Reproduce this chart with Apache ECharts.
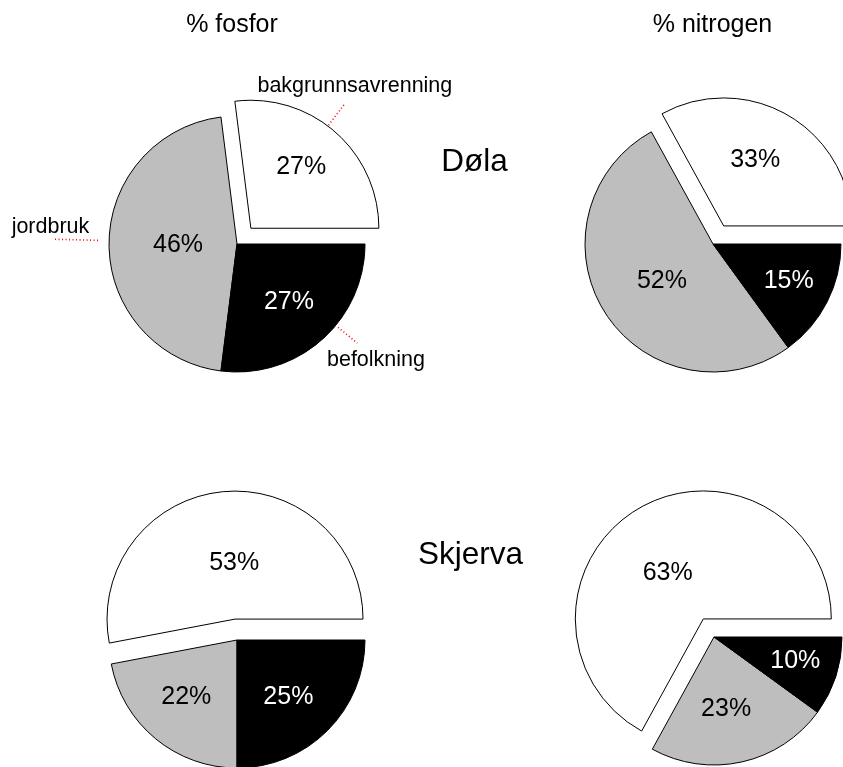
<!DOCTYPE html>
<html><head><meta charset="utf-8">
<script src="https://cdn.jsdelivr.net/npm/echarts@6/dist/echarts.min.js"></script>
<style>html,body{margin:0;padding:0;background:#fff}#c{width:843px;height:767px}</style>
</head><body><div id="c"></div>
<script>
// ---------------- data ----------------
const categories = ['bakgrunnsavrenning', 'jordbruk', 'befolkning'];
const columnTitles = ['% fosfor', '% nitrogen'];
const rowTitles = ['Døla', 'Skjerva'];

// slice sizes (share of total, %)
const dolaFosfor = [27, 46, 27];
const dolaNitrogen = [33, 52, 15];
const skjervaFosfor = [53, 22, 25];
const skjervaNitrogen = [67, 23, 10];   // slice as drawn in the original

// printed percentage labels (as printed in the original)
const dolaFosforLabels = ['27%', '46%', '27%'];
const dolaNitrogenLabels = ['33%', '52%', '15%'];
const skjervaFosforLabels = ['53%', '22%', '25%'];
const skjervaNitrogenLabels = ['63%', '23%', '10%'];

// ---------------- style / layout ----------------
const COLORS = ['#ffffff', '#bebebe', '#000000'];
const LABEL_COLORS = ['#000', '#000', '#fff'];
const FONT = "'Liberation Sans', Arial, Helvetica, sans-serif";
const R = 128;
const EXPLODE = 21;
const LABEL_NUDGE_Y = 1.5;

const pies = [
  { values: dolaFosfor, labels: dolaFosforLabels, center: [237, 244], exploded: 0,
    shift: [[6, -12.6], [8, 0], [7.6, 6.6]] },
  { values: dolaNitrogen, labels: dolaNitrogenLabels, center: [713, 244], exploded: 0,
    shift: [[-2.6, -10], [5.5, 0], [16, 5]] },
  { values: skjervaFosfor, labels: skjervaFosforLabels, center: [237, 640], exploded: 0,
    shift: [[5.5, 9.7], [-8, 4], [4, 8]] },
  { values: skjervaNitrogen, labels: skjervaNitrogenLabels, center: [714, 637], exploded: 0,
    shift: [[-1.5, 10.6], [-2.5, 5.5], [17.6, 2]] }
];

function midAngles(values) {
  const total = values.reduce((a, b) => a + b, 0);
  let acc = 0;
  return values.map(v => { const a0 = acc / total * 360; acc += v; return (a0 + acc / total * 360) / 2; });
}

// leader lines for category names on the first pie (angle in degrees, radii from slice centre)
const leaders = [
  { angle: 53, r1: 129, r2: 157, tdx: 9.5, tdy: -16.5 },
  { angle: 178.5, r1: 139, r2: 184, tdx: -2.6, tdy: -12 },
  { angle: -39.5, r1: 131, r2: 156, tdx: 18.6, tdy: 17 }
];

const series = pies.map(p => ({
  type: 'pie',
  center: p.center,
  radius: R,
  startAngle: 0,
  clockwise: false,
  selectedMode: 'single',
  selectedOffset: EXPLODE,
  avoidLabelOverlap: false,
  animation: false,
  emphasis: { disabled: true },
  itemStyle: { borderColor: '#000', borderWidth: 1 },
  label: {
    show: true, position: 'inside',
    formatter: prm => p.labels[prm.dataIndex],
    fontSize: 25, fontFamily: FONT
  },
  labelLine: { show: false },
  labelLayout: prm => ({ dx: p.shift[prm.dataIndex][0], dy: p.shift[prm.dataIndex][1] + LABEL_NUDGE_Y }),
  data: p.values.map((v, i) => ({
    name: categories[i], value: v, selected: i === p.exploded,
    itemStyle: { color: COLORS[i] },
    label: { color: LABEL_COLORS[i] }
  }))
}));

// category names with red dotted leaders (first pie only)
(function () {
  const p = pies[0];
  const mids = midAngles(p.values);
  series.push({
    type: 'pie',
    center: p.center,
    radius: R,
    startAngle: 0,
    clockwise: false,
    silent: true,
    animation: false,
    z: 5,
    avoidLabelOverlap: false,
    itemStyle: { color: 'rgba(0,0,0,0)', borderWidth: 0 },
    label: { show: true, position: 'outside', formatter: '{b}', fontSize: 21.5, fontFamily: FONT, color: '#000' },
    labelLine: { show: true, length: 10, length2: 0, lineStyle: { color: '#ff0000', width: 1.6, type: [1, 2.5] } },
    labelLayout: prm => {
      const i = prm.dataIndex;
      const m = mids[i] * Math.PI / 180;
      const off = i === p.exploded ? EXPLODE : 0;
      const cx = p.center[0] + off * Math.cos(m);
      const cy = p.center[1] - off * Math.sin(m);
      const L = leaders[i];
      const a = L.angle * Math.PI / 180;
      const x1 = cx + L.r1 * Math.cos(a), y1 = cy - L.r1 * Math.sin(a);
      const x2 = cx + L.r2 * Math.cos(a), y2 = cy - L.r2 * Math.sin(a);
      return { x: x2 + L.tdx, y: y2 + L.tdy, align: 'center', verticalAlign: 'middle',
               labelLinePoints: [[x1, y1], [x2, y2]] };
    },
    data: p.values.map((v, i) => ({ name: categories[i], value: v }))
  });
})();

const titleStyle = (size) => ({ fontSize: size, fontWeight: 'normal', fontFamily: FONT, color: '#000' });

const option = {
  backgroundColor: '#fff',
  animation: false,
  title: [
    { text: columnTitles[0], left: 232, top: 13, textAlign: 'center', padding: 0, textStyle: titleStyle(25) },
    { text: columnTitles[1], left: 712.5, top: 13, textAlign: 'center', padding: 0, textStyle: titleStyle(25) },
    { text: rowTitles[0], left: 474.5, top: 146, textAlign: 'center', padding: 0, textStyle: titleStyle(31.5) },
    { text: rowTitles[1], left: 470.5, top: 539, textAlign: 'center', padding: 0, textStyle: titleStyle(31.5) }
  ],
  series: series
};

const chart = echarts.init(document.getElementById('c'), null, { renderer: 'canvas' });
chart.setOption(option);
</script>
</body></html>
